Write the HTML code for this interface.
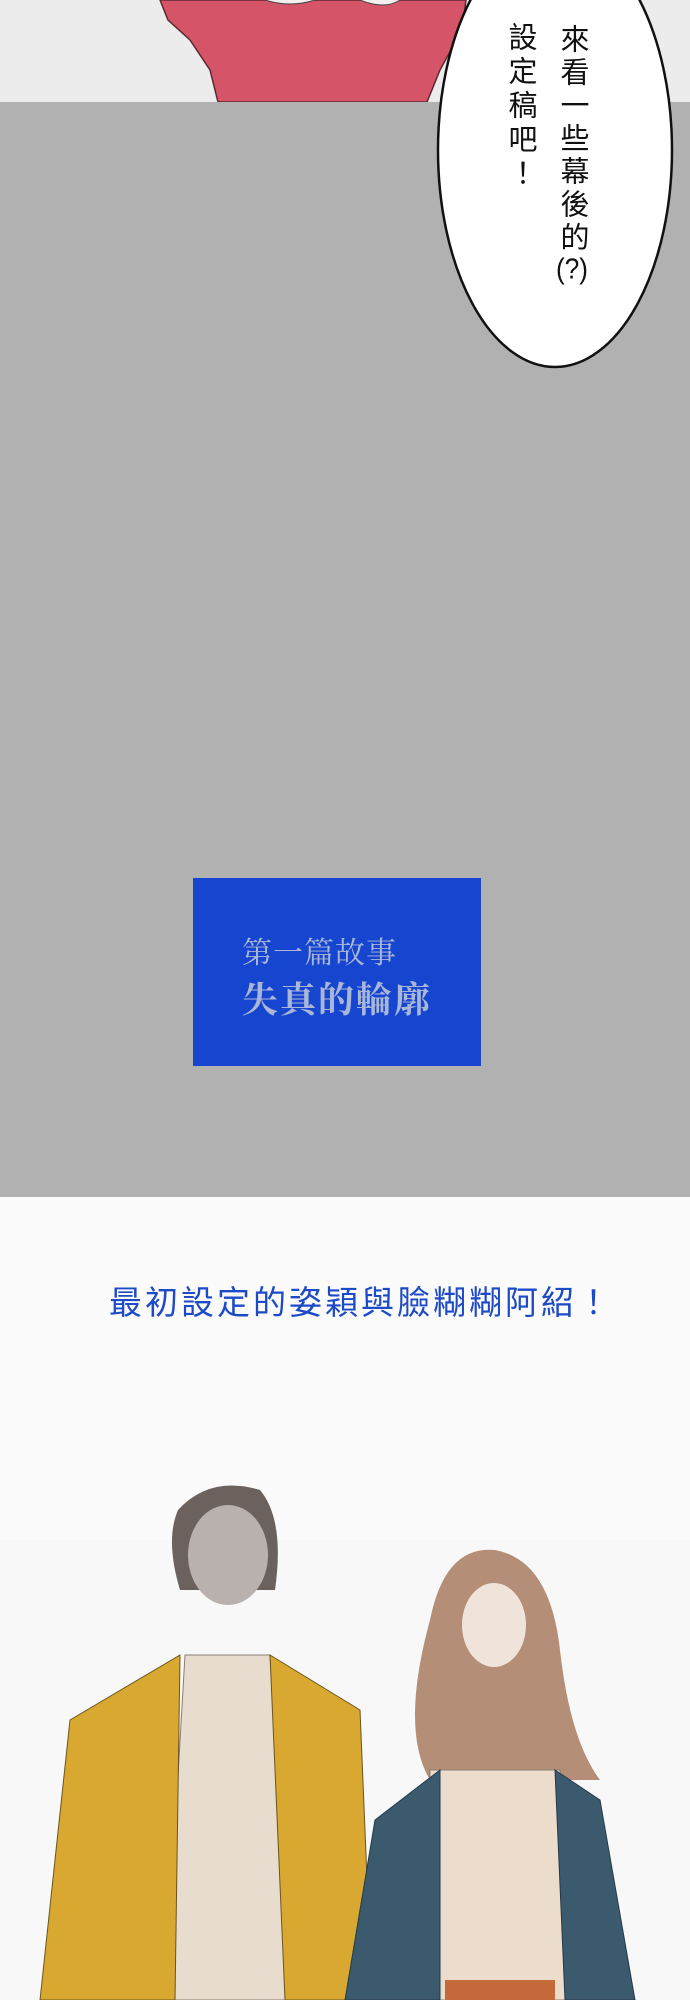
<!DOCTYPE html>
<html><head><meta charset="utf-8"><style>
html,body{margin:0;padding:0}
body{width:690px;height:2000px;position:relative;overflow:hidden;background:#fbfbfb;font-family:"Liberation Sans","Noto Sans CJK TC",sans-serif}
.abs{position:absolute}
.tc{text-combine-upright:all}
</style></head><body>
<div class="abs" style="left:0;top:0;width:690px;height:102px;background:#ececec"></div>
<svg class="abs" style="left:0;top:0" width="690" height="110">
<path d="M160 0 L168 20 L190 40 L210 70 L218 102 L427 102 L440 70 L462 30 L466 0 Z" fill="#d65468" stroke="#5a2a30" stroke-width="1.5"/>
<path d="M265 0 Q290 8 315 0 M360 0 Q385 10 400 0" fill="#f5f0ee" stroke="#444" stroke-width="1"/>
</svg>
<div class="abs" style="left:0;top:102px;width:690px;height:1095px;background:#b1b1b1"></div>
<svg class="abs" style="left:0;top:0" width="690" height="380">
<ellipse cx="555" cy="150" rx="117" ry="217" fill="#fff" stroke="#111" stroke-width="2.5"/>
</svg>
<div class="abs" style="left:555px;top:24px;writing-mode:vertical-rl;font-size:29px;line-height:34px;letter-spacing:4px;color:#111">來看一些幕後的<span class="tc">(?)</span></div>
<div class="abs" style="left:503px;top:22px;writing-mode:vertical-rl;font-size:29px;line-height:34px;letter-spacing:5px;color:#111">設定稿吧！</div>
<div class="abs" style="left:193px;top:878px;width:288px;height:188px;background:#1646d0"></div>
<div class="abs" style="left:242px;top:928px;font-family:'Liberation Serif','Noto Serif CJK SC',serif;font-size:30px;color:#a9b6d8;letter-spacing:1px">第一篇故事</div>
<div class="abs" style="left:242px;top:972px;font-family:'Liberation Serif','Noto Serif CJK SC',serif;font-size:36px;font-weight:bold;color:#a9b6d8;letter-spacing:2px">失真的輪廓</div>
<div class="abs" style="left:16px;width:690px;top:1276px;text-align:center;font-size:33px;color:#1d4ac6;letter-spacing:3px">最初設定的姿穎與臉糊糊阿紹！</div>
<svg class="abs" style="left:0;top:1480px" width="690" height="520">
<rect x="0" y="60" width="690" height="460" fill="#f8f8f8"/>
<path d="M178 30 Q210 -5 260 10 Q285 40 275 110 L180 110 Q165 60 178 30Z" fill="#6b625e"/>
<ellipse cx="228" cy="75" rx="40" ry="50" fill="#b9b1ad"/>
<path d="M185 175 L270 175 L290 520 L165 520Z" fill="#e8dccf" stroke="#8a7e72"/>
<path d="M40 520 L70 240 L180 175 L175 520Z M270 175 L360 230 L372 520 L285 520Z" fill="#d9a830" stroke="#6a5420"/>
<path d="M430 140 Q445 65 495 70 Q550 80 560 170 Q570 260 600 300 L430 300 Q400 250 430 140Z" fill="#b48e76"/>
<ellipse cx="494" cy="145" rx="32" ry="42" fill="#efe3da"/>
<path d="M430 290 L560 290 L570 520 L425 520Z" fill="#ecdccc" stroke="#8a7e72"/>
<path d="M345 520 L375 340 L440 290 L440 520Z M555 290 L600 320 L635 520 L565 520Z" fill="#3c5a6e" stroke="#263a48"/>
<rect x="445" y="500" width="110" height="20" fill="#c46a3a"/>
</svg>
</body></html>
